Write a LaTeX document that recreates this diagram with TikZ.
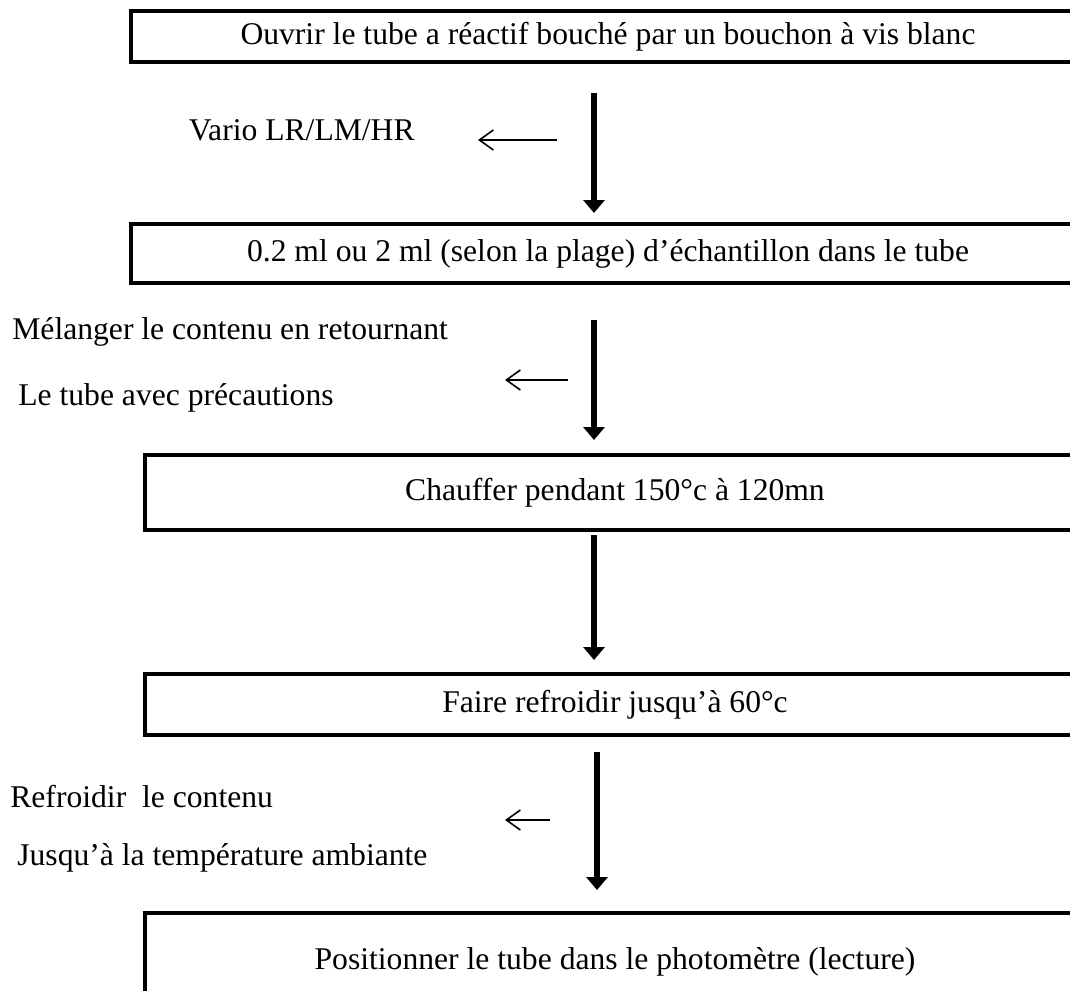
\documentclass[tikz,border=0pt]{standalone}
\usepackage{fontspec}
\setmainfont{Liberation Serif}
\usetikzlibrary{arrows.meta}
\tikzset{
  >=Latex,
  stepbox/.style={
    draw=black,
    line width=2.4pt,
    fill=white,
    outer sep=0pt,
    inner sep=0pt,
    align=center,
    font=\fontsize{18}{21}\selectfont
  },
  flow/.style={line width=3.4pt, -{Triangle[width=0.42cm,length=0.26cm]}},
  aside/.style={line width=0.9pt, -{Straight Barb[length=0.28cm,width=0.4cm]}},
  annot/.style={inner sep=0pt, font=\fontsize{18}{21}\selectfont}
}

\begin{document}
\begin{tikzpicture}[x=0.02cm,y=-0.02cm]
  \useasboundingbox (0,0) rectangle (1070,990);
  \clip (0,0) rectangle (1070,990);

  % Steps
  \node[stepbox, minimum width=19.08cm, minimum height=1.02cm] (b1) at (608,36.5) {Ouvrir le tube a réactif bouché par un bouchon à vis blanc};
  \node[stepbox, minimum width=19.08cm, minimum height=1.18cm] (b2) at (608,253.5) {0.2 ml ou 2 ml (selon la plage) d’échantillon dans le tube};
  \node[stepbox, minimum width=18.8cm, minimum height=1.5cm] (b3) at (615,492.5) {Chauffer pendant 150°c à 120mn};
  \node[stepbox, minimum width=18.8cm, minimum height=1.22cm] (b4) at (615,704.5) {Faire refroidir jusqu’à 60°c};
  \node[stepbox, minimum width=18.8cm, minimum height=1.94cm] (b5) at (615,961.5) {Positionner le tube dans le photomètre (lecture)};

  % Flow
  \coordinate (ax) at (594,0);
  \coordinate (bx) at (597,0);
  \draw[flow, shorten <=0.62cm, shorten >=0.22cm] (b1.south -| ax) -- (b2.north -| ax);
  \draw[flow, shorten <=0.74cm, shorten >=0.3cm] (b2.south -| ax) -- (b3.north -| ax);
  \draw[flow, shorten <=0.1cm, shorten >=0.28cm] (b3.south -| ax) -- (b4.north -| ax);
  \draw[flow, shorten <=0.34cm, shorten >=0.46cm] (b4.south -| bx) -- (b5.north -| bx);

  % Side notes
  \node[annot, anchor=east] (n1) at (415,130) {Vario LR/LM/HR};
  \node[annot, anchor=west] (n2) at (12,332) {Mélanger le contenu en retournant};
  \node[annot, anchor=west] (n3) at (18,398) {Le tube avec précautions};
  \node[annot, anchor=west] (n4) at (10,797) {Refroidir\ \ le contenu};
  \node[annot, anchor=west] (n5) at (17,858) {Jusqu’à la température ambiante};

  \coordinate (s1) at (557,140);
  \coordinate (e1) at (478,140);
  \coordinate (s2) at (568,380);
  \coordinate (e2) at (505,380);
  \coordinate (s3) at (550,820);
  \coordinate (e3) at (505,820);
  \draw[aside] (s1) -- (e1);
  \draw[aside] (s2) -- (e2);
  \draw[aside] (s3) -- (e3);
\end{tikzpicture}
\end{document}
